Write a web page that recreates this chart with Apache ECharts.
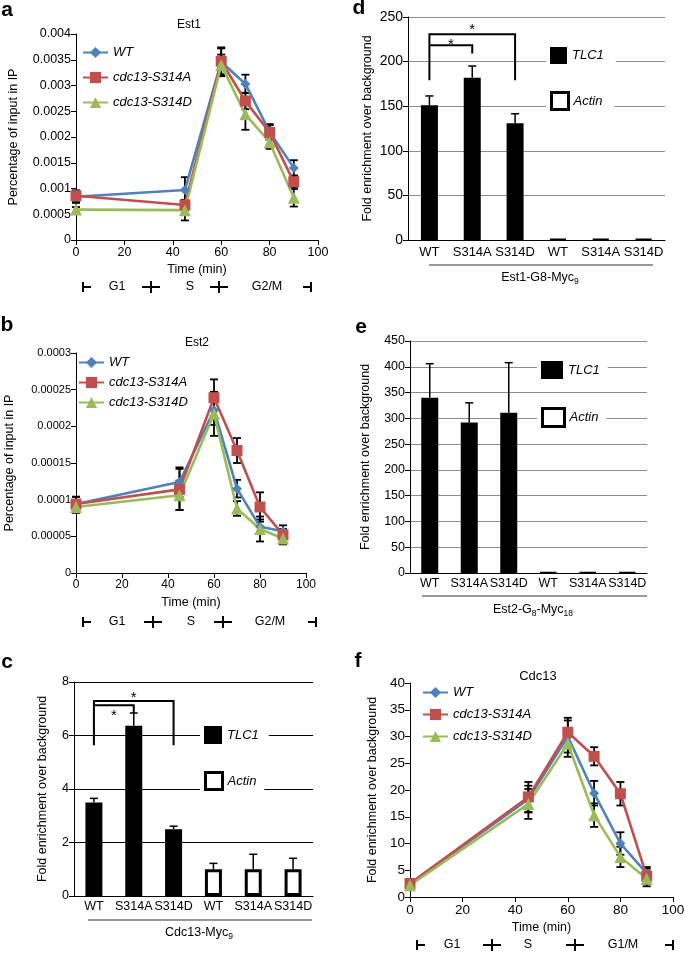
<!DOCTYPE html>
<html><head><meta charset="utf-8">
<script src="https://cdn.jsdelivr.net/npm/echarts@6/dist/echarts.min.js"></script>
<style>html,body{margin:0;padding:0;background:#fff}#c{width:685px;height:955px}</style>
</head><body><div id="c"></div>
<script>
// ---------- DATA ----------
const timePoints = [0, 45, 60, 70, 80, 90];
const strainNames = ['WT', 'cdc13-S314A', 'cdc13-S314D'];

// a: Est1 (percentage of input in IP)
const est1WT = [0.00084, 0.00097, 0.00346, 0.00303, 0.0021, 0.0014];
const est1WTErr = [0.00012, 0.00025, 0.00028, 0.00018, 0.00015, 0.00015];
const est1A = [0.00086, 0.00068, 0.00347, 0.0027, 0.00209, 0.00113];
const est1AErr = [0.0001, 0.0001, 0.00025, 0.00016, 0.00014, 0.00012];
const est1D = [0.00059, 0.00058, 0.0034, 0.00244, 0.0019, 0.00082];
const est1DErr = [0.00005, 0.0002, 0.0002, 0.0003, 0.00013, 0.00017];

// b: Est2
const est2WT = [0.000094, 0.000124, 0.000222, 0.000115, 0.000063, 0.000057];
const est2WTErr = [0.00001, 0.00002, 0.00002, 0.000012, 0.00001, 0.000008];
const est2A = [0.000094, 0.000114, 0.000239, 0.000167, 0.00009, 0.000052];
const est2AErr = [0.00001, 0.000028, 0.000025, 0.000017, 0.00002, 0.000008];
const est2D = [0.00009, 0.000106, 0.000217, 0.000088, 0.00006, 0.000047];
const est2DErr = [0.000008, 0.00002, 0.00003, 0.00001, 0.000017, 0.000008];

// f: Cdc13 (fold enrichment)
const cdc13WT = [2.5, 18.3, 30, 19.4, 10, 4.4];
const cdc13WTErr = [0.8, 2.5, 3, 2.3, 2.1, 1.2];
const cdc13A = [2.5, 18.7, 30.8, 26.3, 19.3, 3.9];
const cdc13AErr = [0.8, 2.8, 2.7, 1.7, 2.2, 1.4];
const cdc13D = [2.2, 17.4, 28.7, 15.3, 7.5, 3.4];
const cdc13DErr = [0.5, 2.8, 2.5, 2.2, 1.9, 1.4];

// bar panels
const barCategories = ['WT', 'S314A', 'S314D', 'WT', 'S314A', 'S314D'];
// c: Cdc13-Myc9
const cTLC1 = [3.5, 6.36, 2.5, '-', '-', '-'];
const cActin = ['-', '-', '-', 1.0, 1.0, 1.0];
const cErr = [0.15, 0.48, 0.11, 0.22, 0.56, 0.41];
// brackets: [from category, to category, top, left end, right end, star level]
const cBrackets = [[0, 2, 7.29, 5.64, 5.64, 7.52], [0, 1, 7.13, 7.13, 6.83, 6.85]];
// d: Est1-G8-Myc9
const dTLC1 = [151, 182, 131, '-', '-', '-'];
const dActin = ['-', '-', '-', 1, 1, 1];
const dErr = [10.5, 13, 10.5, 0, 0, 0];
const dBrackets = [[0, 2, 230.6, 179, 179, 238.5], [0, 1, 218.3, 218.3, 209, 222]];
// e: Est2-G8-Myc18
const eTLC1 = [340, 292, 311, '-', '-', '-'];
const eActin = ['-', '-', '-', 1, 1, 1];
const eErr = [66, 38, 97, 0, 0, 0];

// ---------- STYLE / BUILD ----------
const FONT = '"Liberation Sans", Arial, Helvetica, sans-serif';
const COLORS = ['#4F81BD', '#C0504D', '#9BBB59'];
const SYMBOLS = ['diamond', 'rect', 'triangle'];
const SYMSIZE = [10, 11, 12];

const grids = [
  {left: 76, top: 34, width: 242, height: 206},
  {left: 76, top: 353, width: 230, height: 220},
  {left: 74, top: 682, width: 239, height: 214},
  {left: 408, top: 17, width: 257, height: 223},
  {left: 410, top: 341, width: 237, height: 232},
  {left: 410, top: 683, width: 263, height: 214}
].map(g => Object.assign({containLabel: false, outerBoundsMode: 'none'}, g));

const txt = (size, extra) => Object.assign({color: '#000', fontFamily: FONT, fontSize: size}, extra || {});
const fmt = v => String(+v.toFixed(7));

function timeAxis(gi, gap, size) {
  return {type: 'value', gridIndex: gi, min: 0, max: 100, interval: 20,
    name: 'Time (min)', nameLocation: 'middle', nameGap: gap, nameTextStyle: txt(12.5),
    axisLine: {show: true, lineStyle: {color: '#000', width: 1}},
    axisTick: {show: true, length: 5, lineStyle: {color: '#000'}},
    axisLabel: txt(size, {margin: 6}), splitLine: {show: false}};
}
function valAxis(gi, max, interval, name, gap, size, split) {
  return {type: 'value', gridIndex: gi, min: 0, max: max, interval: interval,
    name: name, nameLocation: 'middle', nameRotate: 90, nameGap: gap, nameTextStyle: txt(12.5),
    axisLine: {show: true, lineStyle: {color: '#000', width: 1}},
    axisTick: {show: true, length: 5, lineStyle: {color: '#000'}},
    axisLabel: txt(size, {margin: 5, formatter: fmt}),
    splitLine: split ? {show: true, lineStyle: {color: split, width: 1}} : {show: false}};
}
function catAxis(gi, size, margin) {
  return {type: 'category', gridIndex: gi, data: barCategories,
    axisLine: {show: true, lineStyle: {color: '#000', width: 1}},
    axisTick: {show: false}, axisLabel: txt(size, {margin: margin, interval: 0})};
}

function errRender(capHalf, upOnly, lw) {
  return function (params, api) {
    const x = api.value(0), y = api.value(1), e = api.value(2);
    if (!e) return null;
    const top = api.coord([x, y + e]);
    const bot = upOnly ? api.coord([x, y]) : api.coord([x, y - e]);
    const st = {stroke: '#000', lineWidth: lw};
    const ch = [
      {type: 'line', shape: {x1: top[0], y1: top[1], x2: bot[0], y2: bot[1]}, style: st},
      {type: 'line', shape: {x1: top[0] - capHalf, y1: top[1], x2: top[0] + capHalf, y2: top[1]}, style: st}
    ];
    if (!upOnly) ch.push({type: 'line', shape: {x1: bot[0] - capHalf, y1: bot[1], x2: bot[0] + capHalf, y2: bot[1]}, style: st});
    return {type: 'group', children: ch};
  };
}
function bracketRender(params, api) {
  const x1 = api.value(0), x2 = api.value(1), top = api.value(2), yl = api.value(3), yr = api.value(4), ys = api.value(5);
  const pts = [api.coord([x1, yl]), api.coord([x1, top]), api.coord([x2, top]), api.coord([x2, yr])];
  const sp = api.coord([x1, ys]);
  const mid = (pts[0][0] + pts[3][0]) / 2;
  return {type: 'group', children: [
    {type: 'polyline', shape: {points: pts}, style: {stroke: '#000', lineWidth: 2, fill: null}},
    {type: 'text', x: mid, y: sp[1] + 3, style: {text: '*', fill: '#000', font: '15px ' + FONT, textAlign: 'center', textVerticalAlign: 'middle'}}
  ]};
}

const series = [];
function addLinePanel(gi, vals, errs) {
  vals.forEach((v, k) => {
    series.push({type: 'custom', name: strainNames[k] + ' err', xAxisIndex: gi, yAxisIndex: gi,
      renderItem: errRender(4, false, 1.8), encode: {x: 0, y: 1}, z: 2, silent: true,
      data: timePoints.map((t, j) => [t, v[j], errs[k][j]])});
    series.push({type: 'line', name: strainNames[k], xAxisIndex: gi, yAxisIndex: gi,
      data: timePoints.map((t, j) => [t, v[j]]), symbol: SYMBOLS[k], symbolSize: SYMSIZE[k],
      lineStyle: {color: COLORS[k], width: 2.6}, itemStyle: {color: COLORS[k]}, z: 3});
  });
}
addLinePanel(0, [est1WT, est1A, est1D], [est1WTErr, est1AErr, est1DErr]);
addLinePanel(1, [est2WT, est2A, est2D], [est2WTErr, est2AErr, est2DErr]);
addLinePanel(5, [cdc13WT, cdc13A, cdc13D], [cdc13WTErr, cdc13AErr, cdc13DErr]);

function addBarPanel(gi, tlc, act, err, border, brackets) {
  series.push({type: 'bar', name: 'TLC1', xAxisIndex: gi, yAxisIndex: gi, data: tlc, barWidth: 17, barGap: '-100%',
    itemStyle: {color: '#000'}, z: 2});
  series.push({type: 'bar', name: 'Actin', xAxisIndex: gi, yAxisIndex: gi, data: act, barWidth: 17, barGap: '-100%',
    itemStyle: {color: '#fff', borderColor: '#000', borderWidth: border}, z: 2});
  const vals = tlc.map((v, i) => v === '-' ? act[i] : v);
  series.push({type: 'custom', name: 'bar err', xAxisIndex: gi, yAxisIndex: gi, renderItem: errRender(4, true, 1.5),
    encode: {x: 0, y: 1}, z: 3, silent: true, data: vals.map((v, i) => [i, v, err[i]])});
  if (brackets) {
    series.push({type: 'custom', name: 'bracket', xAxisIndex: gi, yAxisIndex: gi, renderItem: bracketRender,
      encode: {x: [0, 1], y: [2, 3, 4, 5]}, z: 4, silent: true, data: brackets});
  }
}
addBarPanel(2, cTLC1, cActin, cErr, 3, cBrackets);
addBarPanel(3, dTLC1, dActin, dErr, 2, dBrackets);
addBarPanel(4, eTLC1, eActin, eErr, 2, null);

const xAxes = [timeAxis(0, 23, 12.5), timeAxis(1, 23, 12), catAxis(2, 12.5, 4), catAxis(3, 13, 6), catAxis(4, 12.5, 4), timeAxis(5, 24, 13.5)];
const yAxes = [
  valAxis(0, 0.004, 0.0005, 'Percentage of input in IP', 56, 12.5, null),
  valAxis(1, 0.0003, 0.00005, 'Percentage of input in IP', 60, 11, null),
  valAxis(2, 8, 2, 'Fold enrichment over background', 25, 12.5, '#000'),
  valAxis(3, 250, 50, 'Fold enrichment over background', 34, 14, '#8c8c8c'),
  valAxis(4, 450, 50, 'Fold enrichment over background', 38, 12.5, '#8c8c8c'),
  valAxis(5, 40, 5, 'Fold enrichment over background', 31, 13.5, null)
];

const lineLegend = (left, top, gap) => ({orient: 'vertical', left: left, top: top, padding: 0, itemWidth: 25, itemHeight: 14,
  itemGap: gap, data: strainNames, selectedMode: false, textStyle: txt(13, {fontStyle: 'italic'})});
const LEGEND_ITEMS = {
  TLC1: {name: 'TLC1', icon: 'rect', itemStyle: {color: '#000', borderWidth: 0}},
  Actin: {name: 'Actin', icon: 'rect', itemStyle: {color: '#fff', borderColor: '#000', borderWidth: 3}}
};
const barLegend = (name, left, top, w, h, pad) => ({orient: 'vertical', left: left, top: top, padding: pad, itemWidth: w, itemHeight: h,
  selectedMode: false, backgroundColor: '#fff', textStyle: txt(13, {fontStyle: 'italic'}), data: [LEGEND_ITEMS[name]]});
const legends = [
  lineLegend(82, 46, 12), lineLegend(78, 356, 7), lineLegend(422, 686, 9),
  barLegend('TLC1', 200, 720, 18, 18, [6, 10, 5, 4]), barLegend('Actin', 200, 765, 17, 17, [6, 8, 5, 4]),
  barLegend('TLC1', 546, 42, 17, 17, [5, 12, 5, 4]), barLegend('Actin', 546, 86, 17, 17, [5, 12, 5, 4]),
  barLegend('TLC1', 537, 356, 22, 18, [5, 8, 5, 4]), barLegend('Actin', 537, 402, 22, 18, [5, 8, 5, 4])
];

// ---------- DECORATIONS ----------
const G = [];
const T = (x, y, s, size, extra) => G.push({type: 'text', x: x, y: y, silent: true,
  style: Object.assign({text: s, fill: '#000', font: size + 'px ' + FONT, textAlign: 'center', textVerticalAlign: 'middle'}, extra || {})});
const L = (x1, y1, x2, y2, w, c) => G.push({type: 'line', silent: true, shape: {x1: x1, y1: y1, x2: x2, y2: y2}, style: {stroke: c || '#000', lineWidth: w || 2}});
function phase(y, p, labels) {
  L(p[0], y - 5, p[0], y + 5); L(p[0], y, p[0] + 8, y);
  T(p[1], y, labels[0], 12.5);
  L(p[2] - 9, y, p[2] + 9, y); L(p[2], y - 6, p[2], y + 6);
  T(p[3], y, labels[1], 12.5);
  L(p[4] - 9, y, p[4] + 9, y); L(p[4], y - 6, p[4], y + 6);
  T(p[5], y, labels[2], 12.5);
  L(p[6], y - 5, p[6], y + 5); L(p[6] - 8, y, p[6], y);
}
phase(287, [83, 117, 151, 190, 219, 267, 311], ['G1', 'S', 'G2/M']);
phase(622, [83, 117, 153, 191, 223, 270, 316], ['G1', 'S', 'G2/M']);
phase(945, [417, 452, 492, 528, 575, 623, 673], ['G1', 'S', 'G1/M']);

// panel letters
['a', 'b', 'c', 'd', 'e', 'f'].forEach((s, i) => {
  const pos = [[7, 10], [7, 325], [7, 662], [359, 8], [361, 327], [358, 661]][i];
  T(pos[0], pos[1], s, 21, {font: 'bold 21px ' + FONT});
});
// panel titles
T(189, 25, 'Est1', 12); T(197, 343, 'Est2', 12); T(538, 676, 'Cdc13', 13);
// group underlines and labels
L(88, 920, 312, 920, 1, '#333'); L(429, 265, 653, 265, 1, '#333'); L(422, 596, 647, 596, 1, '#333');
const rich = {n: {fontSize: 12.5, fontFamily: FONT, lineHeight: 16, fill: '#000'}, s: {fontSize: 8.5, fontFamily: FONT, lineHeight: 9, verticalAlign: 'bottom', fill: '#000'}};
T(199, 933, '{n|Cdc13-Myc}{s|9}', 12.5, {rich: rich});
T(540, 278, '{n|Est1-G8-Myc}{s|9}', 12.5, {rich: rich});
T(533, 610, '{n|Est2-G}{s|8}{n|-Myc}{s|18}', 12.5, {rich: rich});

const chart = echarts.init(document.getElementById('c'), null, {renderer: 'canvas'});
chart.setOption({
  animation: false,
  backgroundColor: '#fff',
  textStyle: {fontFamily: FONT},
  grid: grids, xAxis: xAxes, yAxis: yAxes, legend: legends,
  series: series, graphic: {elements: G}
});
</script></body></html>
